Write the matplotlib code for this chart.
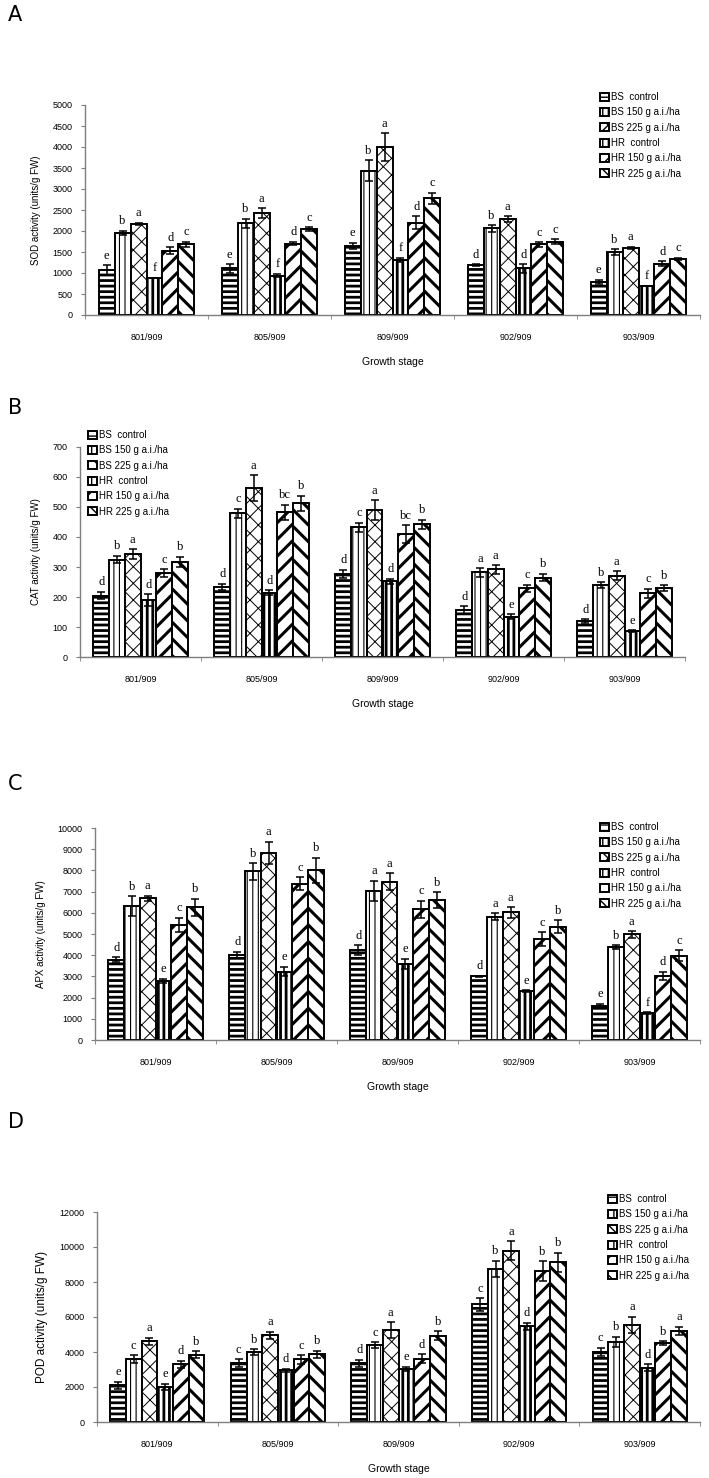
import matplotlib
matplotlib.use("Agg")
import matplotlib.pyplot as plt
import numpy as np

W, H = 709, 1478

categories = ["801/909", "805/909", "809/909", "902/909", "903/909"]
series = ["BS  control", "BS 150 g a.i./ha", "BS 225 g a.i./ha",
          "HR  control", "HR 150 g a.i./ha", "HR 225 g a.i./ha"]

# SOD (panel A): rows = series, columns = categories
sod_vals = [[1070, 1110, 1650, 1190, 790],
            [1960, 2180, 3430, 2060, 1500],
            [2170, 2420, 4000, 2280, 1590],
            [880, 940, 1310, 1110, 690],
            [1530, 1700, 2200, 1680, 1220],
            [1690, 2040, 2780, 1740, 1330]]
sod_err = [[110, 100, 70, 20, 50],
           [50, 110, 250, 80, 70],
           [30, 120, 330, 70, 30],
           [10, 40, 50, 100, 10],
           [80, 40, 150, 50, 60],
           [60, 50, 130, 60, 30]]
sod_letters = [["e", "e", "e", "d", "e"],
               ["b", "b", "b", "b", "b"],
               ["a", "a", "a", "a", "a"],
               ["f", "f", "f", "d", "f"],
               ["d", "d", "d", "c", "d"],
               ["c", "c", "c", "c", "c"]]

# CAT (panel B)
cat_vals = [[205, 234, 278, 157, 119],
            [325, 480, 433, 282, 239],
            [343, 563, 490, 292, 271],
            [190, 215, 253, 135, 86],
            [280, 483, 410, 229, 212],
            [318, 512, 443, 265, 230]]
cat_err = [[12, 10, 13, 12, 7],
           [12, 15, 15, 14, 10],
           [17, 43, 33, 14, 15],
           [20, 7, 8, 7, 3],
           [12, 25, 30, 12, 15],
           [17, 25, 15, 12, 10]]
cat_letters = [["d", "d", "d", "d", "d"],
               ["b", "c", "c", "a", "b"],
               ["a", "a", "a", "a", "a"],
               ["d", "d", "d", "e", "e"],
               ["c", "bc", "bc", "c", "c"],
               ["b", "b", "b", "b", "b"]]

# APX (panel C)
apx_vals = [[3780, 4010, 4245, 3000, 1620],
            [6320, 7950, 7050, 5820, 4370],
            [6680, 8830, 7460, 6020, 4980],
            [2800, 3230, 3590, 2300, 1260],
            [5430, 7380, 6160, 4750, 3030],
            [6260, 8000, 6600, 5350, 3980]]
apx_err = [[120, 150, 230, 40, 100],
           [460, 380, 470, 150, 100],
           [130, 520, 400, 250, 150],
           [100, 220, 250, 50, 40],
           [330, 300, 400, 330, 180],
           [400, 600, 380, 300, 250]]
apx_letters = [["d", "d", "d", "d", "e"],
               ["b", "b", "a", "a", "b"],
               ["a", "a", "a", "a", "a"],
               ["e", "e", "e", "e", "f"],
               ["c", "c", "c", "c", "d"],
               ["b", "b", "b", "b", "c"]]

# POD (panel D)
pod_vals = [[2100, 3370, 3370, 6720, 4000],
            [3580, 4000, 4380, 8760, 4570],
            [4610, 4950, 5260, 9790, 5560],
            [2000, 2950, 3030, 5470, 3090],
            [3310, 3580, 3620, 8630, 4510],
            [3830, 3870, 4930, 9120, 5200]]
pod_err = [[200, 230, 200, 350, 250],
           [230, 150, 170, 450, 300],
           [200, 200, 450, 550, 450],
           [180, 100, 130, 200, 200],
           [200, 250, 250, 550, 100],
           [200, 200, 250, 550, 250]]
pod_letters = [["e", "c", "d", "c", "c"],
               ["c", "b", "c", "b", "b"],
               ["a", "a", "a", "a", "a"],
               ["e", "d", "e", "d", "d"],
               ["d", "c", "d", "b", "b"],
               ["b", "b", "b", "b", "a"]]

hatches = ["---", "|||", "xx", "|||", "//", "\\\\"]
hatch_lw = [2.0, 0.8, 0.7, 2.0, 2.2, 2.2]

fig = plt.figure(figsize=(W / 100, H / 100), dpi=100)

def px_axes(x0, x1, ytop, ybot):
    return fig.add_axes([x0 / W, 1 - ybot / H, (x1 - x0) / W, (ybot - ytop) / H])

panels = [
    dict(letter="A", ax=(85, 700, 105, 315), ymax=5000, step=500, vals=sod_vals, err=sod_err,
         lets=sod_letters, ylabel="SOD activity (units/g FW)", ylfs=7,
         legend=(600, 92), letter_y=15),
    dict(letter="B", ax=(80, 685, 447, 657), ymax=700, step=100, vals=cat_vals, err=cat_err,
         lets=cat_letters, ylabel="CAT activity (units/g FW)", ylfs=7,
         legend=(88, 430), letter_y=408),
    dict(letter="C", ax=(95, 700, 828, 1040), ymax=10000, step=1000, vals=apx_vals, err=apx_err,
         lets=apx_letters, ylabel="APX activity (units/g FW)", ylfs=7,
         legend=(600, 822), letter_y=784),
    dict(letter="D", ax=(97, 700, 1212, 1422), ymax=12000, step=2000, vals=pod_vals, err=pod_err,
         lets=pod_letters, ylabel="POD activity (units/g FW)", ylfs=8.5,
         legend=(608, 1194), letter_y=1122),
]

grey = "#7f7f7f"
bw = 0.13
x = np.arange(len(categories))

for p in panels:
    ax = px_axes(*p["ax"])
    handles = []
    for i in range(len(series)):
        with plt.rc_context({"hatch.linewidth": hatch_lw[i]}):
            bc = ax.bar(x + (i - 2.5) * bw, p["vals"][i], width=bw, color="white",
                        edgecolor="black", linewidth=1.4, hatch=hatches[i],
                        yerr=p["err"][i], capsize=3,
                        error_kw=dict(ecolor="black", elinewidth=1.1, capthick=1.1),
                        label=series[i], zorder=2)
        for patch in bc.patches:
            if hasattr(patch, "set_hatch_linewidth"):
                patch.set_hatch_linewidth(hatch_lw[i])
        handles.append(bc)
        for j in range(len(categories)):
            top = p["vals"][i][j] + p["err"][i][j]
            ax.annotate(p["lets"][i][j], (x[j] + (i - 2.5) * bw, top),
                        xytext=(0, 2.5), textcoords="offset points",
                        ha="center", va="bottom", fontsize=9,
                        family="Liberation Serif")
    ax.set_xlim(-0.5, len(categories) - 0.5)
    ax.set_ylim(0, p["ymax"])
    ax.set_yticks(np.arange(0, p["ymax"] + 1, p["step"]))
    ax.set_xticks(x)
    ax.set_xticklabels(categories, fontsize=6.5, family="Liberation Sans")
    ax.set_xticks(np.arange(-0.5, len(categories), 1.0), minor=True)
    ax.tick_params(axis="x", which="major", length=0, pad=13)
    ax.tick_params(axis="x", which="minor", length=3, color=grey, direction="out")
    ax.tick_params(axis="y", length=3, color=grey, labelsize=6.5, pad=6)
    for lab in ax.get_yticklabels():
        lab.set_family("Liberation Sans")
    for s in ["top", "right"]:
        ax.spines[s].set_visible(False)
    for s in ["left", "bottom"]:
        ax.spines[s].set_color(grey)
        ax.spines[s].set_linewidth(1.0)
    ax.set_xlabel("Growth stage", fontsize=7.5, family="Liberation Sans", labelpad=11)
    ax.set_ylabel(p["ylabel"], fontsize=p["ylfs"], family="Liberation Sans", labelpad=8)

    lx, ly = p["legend"]
    fig.legend(handles=handles, labels=series, loc="upper left",
               bbox_to_anchor=(lx / W, 1 - ly / H), frameon=False,
               prop=dict(family="Liberation Sans", size=7),
               handlelength=0.9, handleheight=0.9, handletextpad=0.25,
               labelspacing=0.55, borderpad=0, borderaxespad=0)

    fig.text(8 / W, 1 - p["letter_y"] / H, p["letter"], fontsize=15,
             family=["Liberation Sans Narrow", "DejaVu Sans"], ha="left", va="center")

fig.savefig("out.png", dpi=100)
